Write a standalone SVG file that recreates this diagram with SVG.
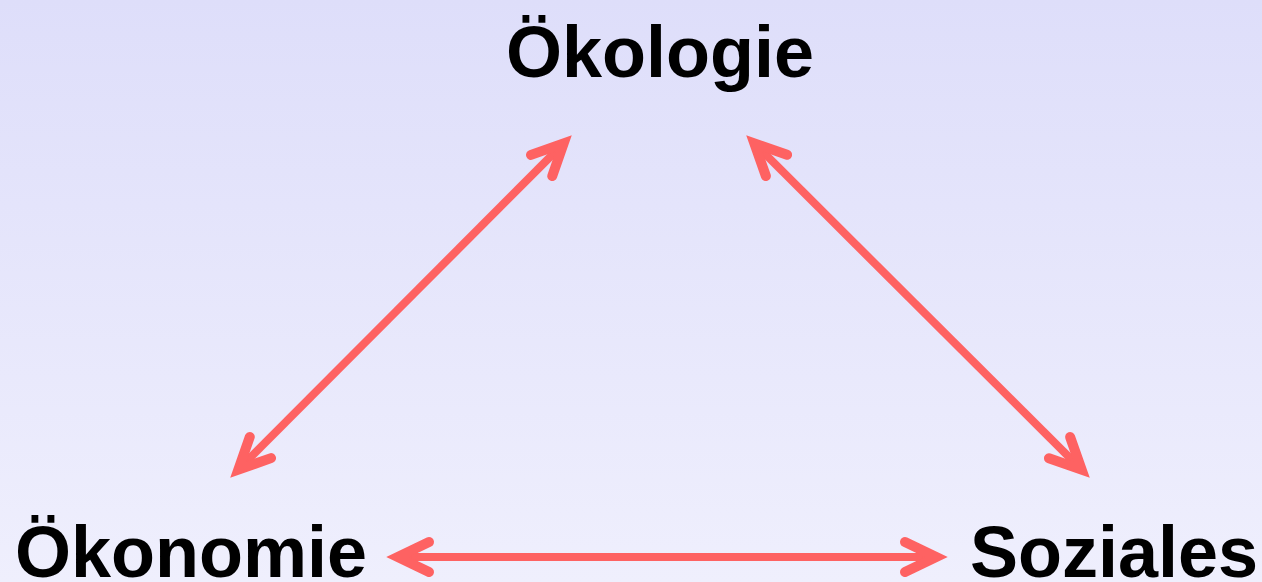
<svg xmlns="http://www.w3.org/2000/svg" width="1262" height="582" viewBox="0 0 1262 582">
  <defs>
    <linearGradient id="bg" x1="0" y1="0" x2="0" y2="1">
      <stop offset="0" stop-color="#dedefa"/>
      <stop offset="1" stop-color="#efeffd"/>
    </linearGradient>
    <marker id="head" markerUnits="userSpaceOnUse" viewBox="-45 -25 60 50" markerWidth="60" markerHeight="50" refX="0" refY="0" orient="auto-start-reverse" overflow="visible">
      <path d="M-33,-15 L-1.8,0 L-33,15" fill="none" stroke="#fe6262" stroke-width="10" stroke-linecap="round" stroke-linejoin="miter"/>
    </marker>
    <style>
      .label { font-family: "Liberation Sans", Arial, sans-serif; font-weight: bold; font-size: 72px; fill: #000; }
      .conn { fill: none; stroke: #fe6262; stroke-width: 8; marker-start: url(#head); marker-end: url(#head); }
    </style>
  </defs>
  <rect x="0" y="0" width="1262" height="582" fill="url(#bg)"/>
  <g id="connectors">
    <path class="conn" d="M237.1,470.9 L564.9,142.1"/>
    <path class="conn" d="M753.1,142.1 L1082.9,470.9"/>
    <path class="conn" d="M396,557 L938,557"/>
  </g>
  <g id="oekologie">
    <text class="label" x="660" y="77" text-anchor="middle">Ökologie</text>
  </g>
  <g id="oekonomie">
    <text class="label" x="15" y="577">Ökonomie</text>
  </g>
  <g id="soziales">
    <text class="label" x="970" y="577">Soziales</text>
  </g>
</svg>
